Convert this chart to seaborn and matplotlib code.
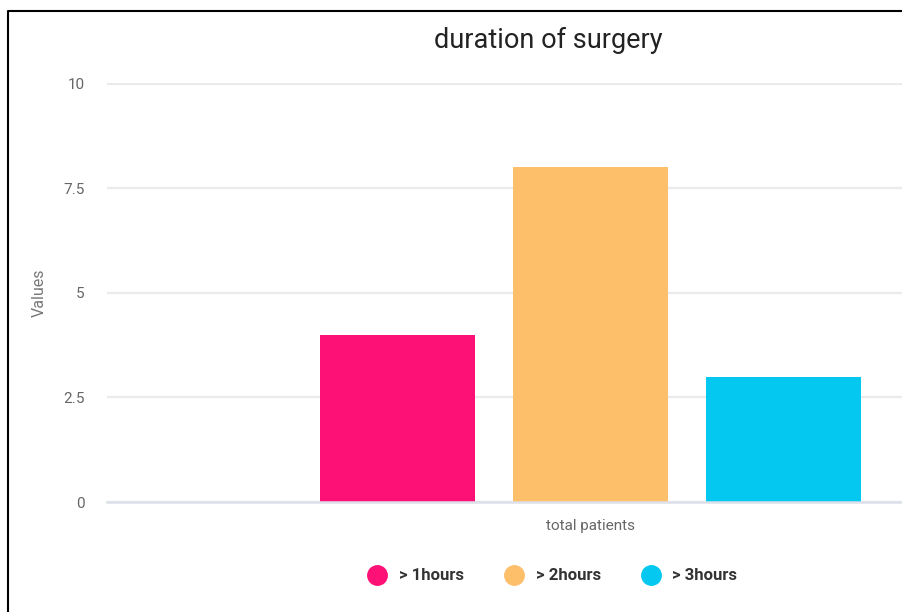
import pandas as pd
import matplotlib.pyplot as plt
import seaborn as sns
from matplotlib.lines import Line2D

# dados do gráfico
categorias = ["total patients"]
series = ["> 1hours", "> 2hours", "> 3hours"]
valores = [4, 8, 3]
cores = {"> 1hours": "#FE1176", "> 2hours": "#FEBF6B", "> 3hours": "#04C8F0"}
y_ticks = [0, 2.5, 5, 7.5, 10]
y_tick_labels = ["0", "2.5", "5", "7.5", "10"]

df = pd.DataFrame({
    "categoria": categorias * len(series),
    "serie": series,
    "valor": valores,
})

sns.set_theme(style="white")
plt.rcParams["font.family"] = ["Roboto", "DejaVu Sans"]

W, H = 903, 612
fig = plt.figure(figsize=(W / 100, H / 100), dpi=100)
ax = fig.add_axes([107 / W, 1 - 502 / H, (W - 107) / W, (502 - 83) / H])

sns.barplot(data=df, x="categoria", y="valor", hue="serie", palette=cores,
            gap=0.2, legend=False, saturation=1, linewidth=0, ax=ax)

ax.set_xlim(-0.668, 0.432)
ax.set_ylim(0, 10.02)
ax.set_yticks(y_ticks)
ax.set_yticklabels(y_tick_labels)
ax.grid(axis="y", color="#ebebeb", linewidth=1.6)
ax.set_axisbelow(True)
for s in ["top", "right", "left"]:
    ax.spines[s].set_visible(False)
ax.spines["bottom"].set_color("#dde0ea")
ax.spines["bottom"].set_linewidth(1.8)
ax.tick_params(axis="both", length=0, colors="#666666", labelsize=11)
ax.tick_params(axis="y", pad=16)
ax.tick_params(axis="x", pad=12)
for lbl in ax.get_yticklabels():
    lbl.set_horizontalalignment("right")
ax.set_xlabel("")
ax.set_ylabel("Values", color="#777777", fontsize=11.5)
ax.yaxis.set_label_coords((47 - 107) / (W - 107), 0.5)

fig.text(548 / W, 1 - 40 / H, "duration of surgery", ha="center", va="center",
         fontsize=19.5, color="#222222")

# legenda com círculos
handles = [Line2D([0], [0], marker="o", linestyle="", markersize=14,
                  markerfacecolor=cores[s], markeredgecolor=cores[s]) for s in series]
leg = fig.legend(handles, series, loc="center", bbox_to_anchor=(549 / W, 1 - 576 / H),
                 ncol=3, frameon=False, handletextpad=0.3, columnspacing=2.0,
                 prop={"weight": "bold", "size": 12})
for t in leg.get_texts():
    t.set_color("#333333")

# borda preta (esquerda e topo)
fig.add_artist(Line2D([8 / W, 8 / W, 1], [0, 1 - 11 / H, 1 - 11 / H],
                      transform=fig.transFigure, color="black", linewidth=1.5))

fig.savefig("out.png", dpi=100)
